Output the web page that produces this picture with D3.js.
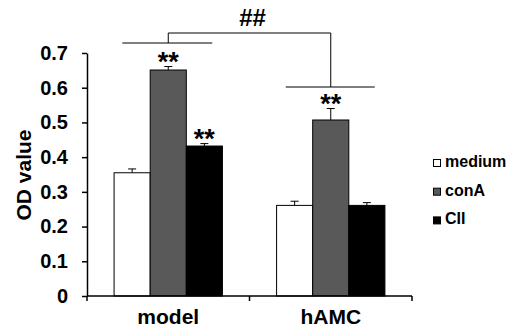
<!DOCTYPE html>
<html>
<head>
<meta charset="utf-8">
<script src="https://cdn.jsdelivr.net/npm/d3@7"></script>
<style>
  body { margin: 0; background: #fff; }
  svg { font-family: "Liberation Sans", Arial, sans-serif; }
</style>
</head>
<body>
<div class="chart"></div>
<script>
const groups = ['model', 'hAMC'];
const series = ['medium', 'conA', 'CII'];
const values = {
  medium: [0.355, 0.261],
  conA: [0.651, 0.507],
  CII: [0.432, 0.261]
};
const errors = {
  medium: [0.011, 0.012],
  conA: [0.01, 0.033],
  CII: [0.007, 0.008]
};
const yTicks = [0, 0.1, 0.2, 0.3, 0.4, 0.5, 0.6, 0.7];
const colors = { medium: '#ffffff', conA: '#595959', CII: '#000000' };

const width = 518, height = 329;
const margin = { left: 87, right: 106, top: 53, bottom: 33 };

const svg = d3.select('.chart').append('svg')
  .attr('width', width)
  .attr('height', height);

const x = d3.scaleBand()
  .domain(groups)
  .range([margin.left, width - margin.right])
  .paddingInner(0)
  .paddingOuter(0);

const xs = d3.scaleBand()
  .domain(series)
  .range([0, x.bandwidth()])
  .paddingOuter(0.75)
  .paddingInner(0);

const y = d3.scaleLinear()
  .domain([0, 0.7])
  .range([height - margin.bottom, margin.top]);

const rows = [];
groups.forEach((g, i) => series.forEach(s => rows.push({ g: g, s: s, v: values[s][i], e: errors[s][i] })));
const cx = d => x(d.g) + xs(d.s) + xs.bandwidth() / 2;

// error bars, upper only
const err = svg.append('g').selectAll('g')
  .data(rows)
  .enter()
  .append('g')
  .attr('stroke', '#000')
  .attr('stroke-width', 1);
err.append('line')
  .attr('x1', cx).attr('x2', cx)
  .attr('y1', d => y(d.v))
  .attr('y2', d => y(d.v + d.e));
err.append('line')
  .attr('x1', d => cx(d) - 4)
  .attr('x2', d => cx(d) + 4)
  .attr('y1', d => y(d.v + d.e))
  .attr('y2', d => y(d.v + d.e));

svg.append('g').selectAll('rect')
  .data(rows)
  .enter()
  .append('rect')
  .attr('x', d => x(d.g) + xs(d.s))
  .attr('y', d => y(d.v))
  .attr('width', xs.bandwidth())
  .attr('height', d => y(0) - y(d.v))
  .attr('fill', d => colors[d.s])
  .attr('stroke', '#000')
  .attr('stroke-width', 1);

// y axis
const yAxis = svg.append('g')
  .attr('transform', `translate(${margin.left},0)`)
  .call(d3.axisLeft(y).tickValues(yTicks).tickSize(5).tickSizeOuter(0)
    .tickFormat(d => d === 0 ? '0' : d3.format('.1f')(d)));
yAxis.select('.domain').attr('stroke', '#000').attr('stroke-width', 1.5);
yAxis.selectAll('.tick line').attr('stroke-width', 1.5);
yAxis.selectAll('text')
  .attr('font-size', 20)
  .attr('font-weight', 'bold')
  .attr('font-family', '"Liberation Sans", Arial, sans-serif')
  .attr('fill', '#000')
  .attr('x', -19);

// x axis, ticks at band edges
const xAxis = svg.append('g')
  .attr('transform', `translate(0,${y(0)})`);
xAxis.append('line')
  .attr('x1', x.range()[0]).attr('x2', x.range()[1])
  .attr('stroke', '#000').attr('stroke-width', 1.5);
const edges = [x(groups[0]), x(groups[1]), x(groups[1]) + x.bandwidth()];
xAxis.selectAll('.edge')
  .data(edges)
  .enter()
  .append('line')
  .attr('x1', d => d).attr('x2', d => d)
  .attr('y1', 0).attr('y2', 5)
  .attr('stroke', '#000').attr('stroke-width', 1.5);
xAxis.selectAll('text')
  .data(groups)
  .enter()
  .append('text')
  .attr('x', d => x(d) + x.bandwidth() / 2)
  .attr('y', 28)
  .attr('text-anchor', 'middle')
  .attr('font-size', 21)
  .attr('font-weight', 'bold')
  .text(d => d);

// y title
svg.append('text')
  .attr('transform', 'translate(31,175) rotate(-90)')
  .attr('text-anchor', 'middle')
  .attr('font-size', 21)
  .attr('font-weight', 'bold')
  .text('OD value');

// significance stars
const stars = [
  { g: 'model', s: 'conA' },
  { g: 'model', s: 'CII' },
  { g: 'hAMC', s: 'conA' }
];
svg.selectAll('.star')
  .data(stars)
  .enter()
  .append('text')
  .attr('x', cx)
  .attr('y', d => {
    const i = groups.indexOf(d.g);
    return y(values[d.s][i] + errors[d.s][i]) + 4;
  })
  .attr('text-anchor', 'middle')
  .attr('font-size', 27)
  .attr('font-weight', 'bold')
  .text('**');

// bracket
const cm = x('model') + xs('conA') + xs.bandwidth() / 2;
const ch = x('hAMC') + xs('conA') + xs.bandwidth() / 2;
const br = svg.append('g').attr('stroke', '#000').attr('stroke-width', 1).attr('fill', 'none');
br.append('line').attr('x1', cm - 46).attr('x2', cm + 44).attr('y1', 43).attr('y2', 43);
br.append('line').attr('x1', ch - 45).attr('x2', ch + 44).attr('y1', 87).attr('y2', 87);
br.append('path').attr('d', `M${cm},43V33H${ch}V87`);
svg.append('text')
  .attr('x', (cm + ch) / 2 + 3)
  .attr('y', 26)
  .attr('text-anchor', 'middle')
  .attr('font-size', 24)
  .attr('font-weight', 'bold')
  .text('##');

// legend
const legend = svg.append('g').attr('transform', 'translate(433,0)');
const lg = legend.selectAll('g')
  .data(series)
  .enter()
  .append('g')
  .attr('transform', (d, i) => `translate(0,${167 + i * 28.7})`);
lg.append('rect')
  .attr('x', 0.5).attr('y', -7.5)
  .attr('width', 7).attr('height', 7)
  .attr('fill', d => colors[d])
  .attr('stroke', '#000');
lg.append('text')
  .attr('x', 12)
  .attr('y', 0)
  .attr('font-size', 16)
  .attr('font-weight', 'bold')
  .text(d => d);
</script>
</body>
</html>
